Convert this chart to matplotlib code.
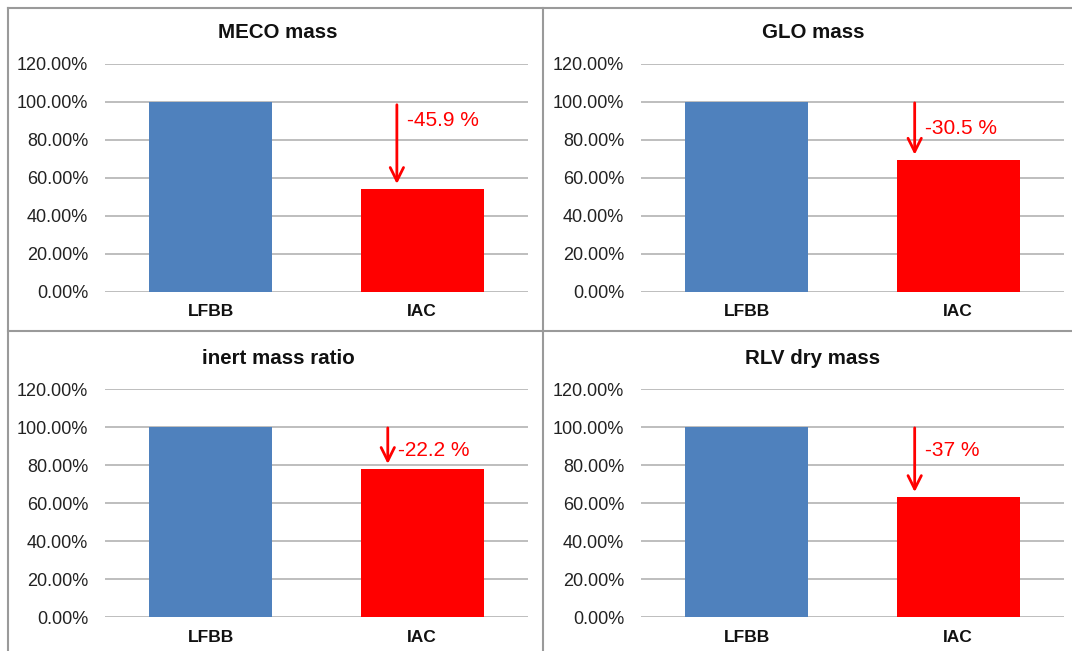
import matplotlib
matplotlib.use("Agg")
import matplotlib.pyplot as plt
from matplotlib.ticker import FuncFormatter

plt.rcParams['font.family'] = ['Liberation Sans', 'DejaVu Sans']

# relative values, LFBB = 100 %
categories = ['LFBB', 'IAC']
titles = ['MECO mass', 'GLO mass', 'inert mass ratio', 'RLV dry mass']
lfbb_values = [100.0, 100.0, 100.0, 100.0]
iac_values = [54.1, 69.5, 77.8, 63.0]
change_labels = ['-45.9 %', '-30.5 %', '-22.2 %', '-37 %']
yticks = [0, 20, 40, 60, 80, 100, 120]

# arrow x-offset from the IAC bar centre, and label anchor (x offset, y)
arrow_dx = [-0.12, -0.206, -0.163, -0.206]
arrow_top = [100, 101, 101, 101]
label_pos = [(-0.07, 90.5), (-0.155, 86.3), (-0.117, 87.4), (-0.155, 87.4)]

W, H = 1072, 651
fig = plt.figure(figsize=(W / 100, H / 100), dpi=100)

# pixel geometry of each panel: (plot left, plot right, y of 0 %, y of 120 %, title x, title y)
panels = [
    (105, 528, 292, 64, 278, 32),
    (641, 1064, 292, 64, 813, 32),
    (105, 528, 617, 389, 278, 358),
    (641, 1064, 617, 389, 813, 358),
]

blue = '#4F81BD'
red = '#FF0000'
grid_col = '#B3B3B3'

for i, (x0, x1, yb, yt, tx, ty) in enumerate(panels):
    ax = fig.add_axes([x0 / W, 1 - yb / H, (x1 - x0) / W, (yb - yt) / H])
    vals = [lfbb_values[i], iac_values[i]]
    ax.bar([0, 1], vals, width=0.58, color=[blue, red], zorder=2)
    ax.set_xlim(-0.5, 1.5)
    ax.set_ylim(0, 120)
    ax.set_yticks(yticks)
    ax.yaxis.set_major_formatter(FuncFormatter(lambda v, p: '%.2f%%' % v))
    ax.set_xticks([0, 1])
    ax.set_xticklabels(categories, fontweight='bold', fontsize=12.5)
    ax.tick_params(axis='y', length=0, pad=12, labelsize=13, labelcolor='#222222')
    ax.tick_params(axis='x', length=0, pad=9, labelcolor='#111111')
    ax.grid(axis='y', color=grid_col, linewidth=1.2, zorder=0)
    for s in ax.spines.values():
        s.set_visible(False)

    xa = 1 + arrow_dx[i]
    ax.annotate('', xy=(xa, iac_values[i] + 1.3), xytext=(xa, arrow_top[i]),
                arrowprops=dict(arrowstyle='->', color=red, lw=2,
                                mutation_scale=24), zorder=3)
    lx, ly = label_pos[i]
    ax.text(1 + lx, ly, change_labels[i], color=red, fontsize=15,
            ha='left', va='center', zorder=3)

    fig.text(tx / W, 1 - ty / H, titles[i], fontsize=14.8, fontweight='bold',
             ha='center', va='center', color='#111111')

# panel frame lines
frame = dict(color='#9A9A9A', linewidth=1.5, transform=fig.transFigure)
fig.add_artist(plt.Line2D([8 / W, 1], [1 - 8 / H, 1 - 8 / H], **frame))
fig.add_artist(plt.Line2D([8 / W, 8 / W], [0, 1 - 8 / H], **frame))
fig.add_artist(plt.Line2D([543 / W, 543 / W], [0, 1 - 8 / H], **frame))
fig.add_artist(plt.Line2D([8 / W, 1], [1 - 331 / H, 1 - 331 / H], **frame))

fig.savefig('out.png', dpi=100)
